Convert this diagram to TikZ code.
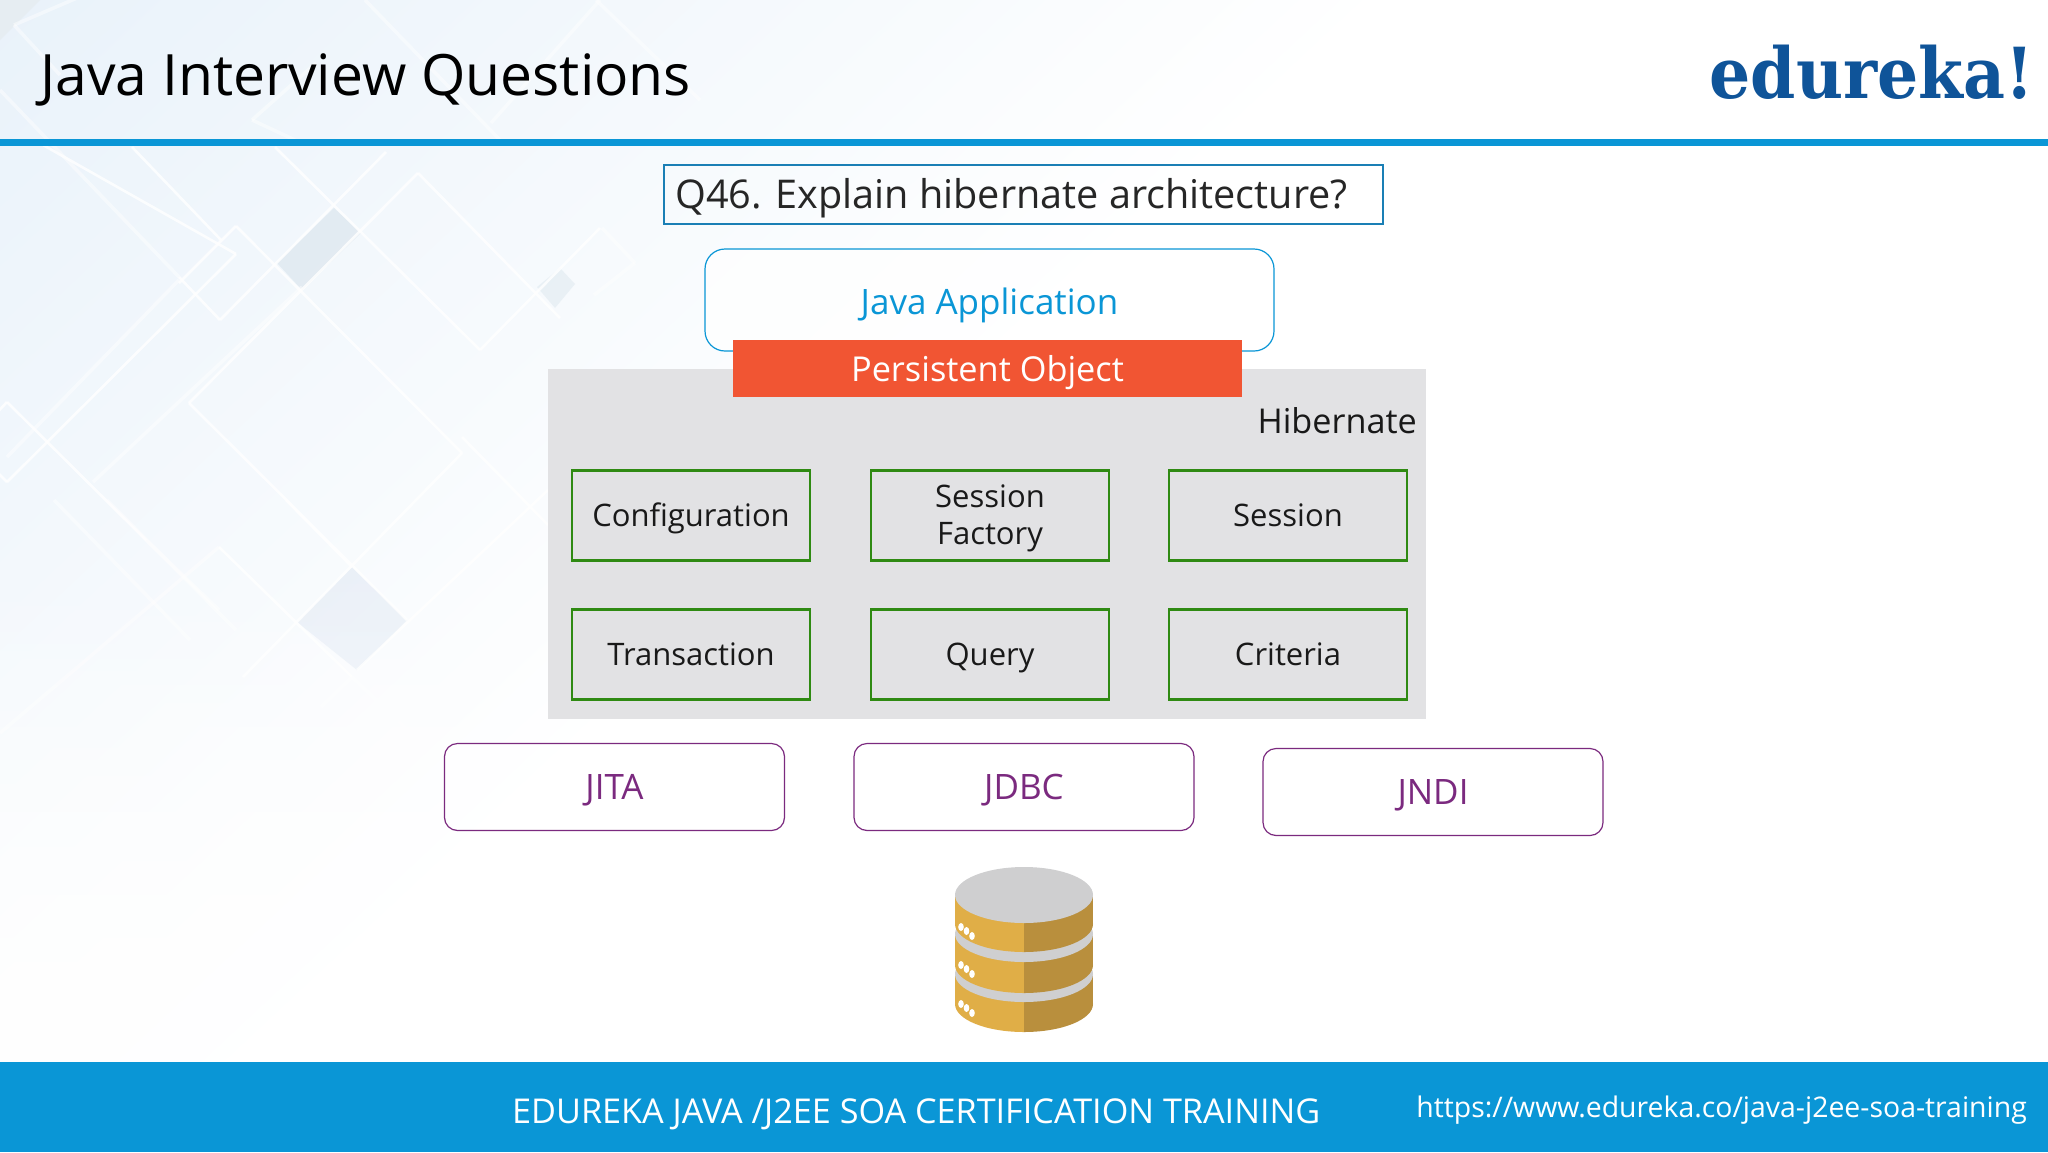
\documentclass[tikz,border=0pt]{standalone}
\usepackage{fontspec}
\usetikzlibrary{fadings}
\setmainfont{Open Sans}
\newfontfamily\logofont[FakeStretch=0.92]{DejaVu Serif}
\definecolor{barblue}{HTML}{0A96D6}
\definecolor{qblue}{HTML}{1A7FB5}
\definecolor{logoblue}{HTML}{0F5499}
\definecolor{bgpale}{HTML}{E9F2FA}
\definecolor{bgblue}{HTML}{DFF2F7}
\definecolor{shadea}{HTML}{D6E2EA}
\definecolor{shadeb}{HTML}{DCE7EE}
\definecolor{shadec}{HTML}{E2EAF4}
\definecolor{cornergrey}{HTML}{E6EDF2}
\definecolor{panelgrey}{HTML}{E2E2E4}
\definecolor{boxgreen}{HTML}{2F8A12}
\definecolor{apipurple}{HTML}{7B2A7F}
\definecolor{poorange}{HTML}{F15533}
\definecolor{dbgold}{HTML}{E0AE47}
\definecolor{dbdark}{HTML}{B98F3D}
\definecolor{dbgrey}{HTML}{CFCFD0}
\newcommand{\dbslab}[2]{%
  \begin{scope}
    \clip (955,860) rectangle (1024,1040);
    \fill[dbgold] (955,#1) rectangle (1024,#2);
    \fill[dbgold] (1024,#2) ellipse [x radius=69,y radius=28];
  \end{scope}
  \begin{scope}
    \clip (1024,860) rectangle (1093,1040);
    \fill[dbdark] (1024,#1) rectangle (1093,#2);
    \fill[dbdark] (1024,#2) ellipse [x radius=69,y radius=28];
  \end{scope}}
\begin{document}
\begin{tikzpicture}[x=1pt,y=-1pt,
  partbox/.style={draw=boxgreen,line width=2.8pt,minimum width=238pt,minimum height=90pt,inner sep=0pt,
    align=center,font=\fontsize{31}{37}\selectfont,text=black!90},
  oneline/.style={text height=22pt,text depth=0pt},
  apibox/.style={draw=apipurple,fill=white,fill opacity=0.6,text opacity=1,line width=1.2pt,rounded corners=13pt,
    minimum width=340pt,minimum height=87pt,inner sep=0pt,text height=25pt,text depth=0pt,
    font=\fontsize{35}{40}\selectfont,text=apipurple},
  bgline/.style={draw=white,line width=2.6pt,opacity=0.8},
  softline/.style={draw=white,line width=3.5pt,opacity=0.45}]
  \useasboundingbox (0,0) rectangle (2048,1152);
  \fill[white] (0,0) rectangle (2048,1152);
  \begin{scope}[transform canvas={rotate=-47}]
    \shade[left color=bgpale,middle color=bgblue,right color=white] (0,-1500) rectangle (950,1500);
  \end{scope}
  \fill[cornergrey] (0,0) -- (40,0) -- (0,40) -- cycle;
  \fill[shadea,opacity=0.55] (334,208) -- (361,233) -- (302,290) -- (277,263) -- cycle;
  \fill[shadeb,opacity=0.5] (537,287) -- (560,268) -- (575,284) -- (555,308) -- cycle;
  \fill[shadec,opacity=0.6] (352,567) -- (407,620) -- (357,670) -- (297,622) -- cycle;
  \foreach \pa/\pb/\pc/\pd in {
    236/226/462/453, 236/226/179/283, 43/145/236/254, 236/254/7/482,
    132/147/221/240, 179/277/220/320, 220/320/386/152, 275/147/480/350,
    480/350/600/228, 418/173/560/318, 418/173/189/403, 189/403/407/620,
    462/453/243/677, 286/500/352/567, 462/437/548/525, 357/670/548/490,
    7/402/146/540, 7/402/-10/420, 7/482/-10/465, 219/547/352/677}
    \draw[bgline] (\pa,\pb) -- (\pc,\pd);
  \foreach \pa/\pb/\pc/\pd in {
    0/90/179/277, 146/540/219/610, 352/677/411/733, 219/547/0/733, 352/677/321/707,
    93/482/302/287, 7/457/179/280, 429/790/271/933, 446/833/357/927, 379/770/446/833,
    54/500/190/640, 107/500/236/630, 252/120/316/63, 252/120/295/140, 491/123/600/0,
    14/25/77/-2, 14/25/60/75, 365/0/500/140, 596/0/700/100, 602/228/635/263,
    635/263/594/295}
    \draw[softline] (\pa,\pb) -- (\pc,\pd);
  \fill[white,path fading=north] (-10,560) rectangle (1200,1062);
  \node[anchor=base west,inner sep=0pt,font=\fontsize{57}{66}\selectfont,text=black] (title) at (40,95) {Java Interview Questions};
  \node[anchor=base east,inner sep=0pt,font=\logofont\bfseries\fontsize{70.4}{76}\selectfont,text=logoblue] (logo) at (2034,98) {edureka!};
  \fill[barblue] (0,139) rectangle (2048,145.5);
  \node[draw=qblue,line width=2.6pt,minimum width=719pt,minimum height=59pt,inner sep=0pt] (qbox) at (1023.5,194.5) {};
  \node[anchor=base west,inner sep=0pt,font=\fontsize{39.6}{48}\selectfont,text=black!85] (qtext) at (675,208.5) {Q46. Explain hibernate architecture?};
  \node[draw=barblue,fill=white,fill opacity=0.7,text opacity=1,line width=1.2pt,rounded corners=20pt,minimum width=569pt,minimum height=102pt,inner sep=0pt,
    text=barblue,text height=29pt,text depth=0pt,font=\fontsize{35}{42}\selectfont] (javaapp) at (989.5,300) {Java Application};
  \node[fill=panelgrey,minimum width=878pt,minimum height=350pt,inner sep=0pt] (hibpanel) at (987,544) {};
  \node[fill=poorange,minimum width=509pt,minimum height=57pt,inner sep=0pt,text=white,text height=25pt,text depth=0pt,
    font=\fontsize{34.3}{42}\selectfont] (persist) at (987.5,368.5) {Persistent Object};
  \node[anchor=east,inner sep=0pt,font=\fontsize{34.2}{42}\selectfont,text=black!90] (hibtext) at (1417,421) {Hibernate};
  \node[partbox,oneline] (config) at (691,515.5) {Configuration};
  \node[partbox] (sfactory) at (990,515.5) {};
  \node[inner sep=0pt,align=center,font=\fontsize{31}{37}\selectfont,text=black!90] (sflabel) at (990,518.5) {Session\\Factory};
  \node[partbox,oneline] (session) at (1288,515.5) {Session};
  \node[partbox,oneline] (trans) at (691,654.5) {Transaction};
  \node[partbox,oneline] (query) at (990,654.5) {Query};
  \node[partbox,oneline] (criteria) at (1288,654.5) {Criteria};
  \node[apibox] (jita) at (614.5,787) {JITA};
  \node[apibox] (jdbc) at (1024,787) {JDBC};
  \node[apibox] (jndi) at (1433,792) {JNDI};
  \dbslab{974}{1004}
  \fill[dbgrey] (1024,974) ellipse [x radius=69,y radius=28];
  \dbslab{934}{965}
  \fill[dbgrey] (1024,934) ellipse [x radius=69,y radius=28];
  \dbslab{895}{924}
  \fill[dbgrey] (1024,895) ellipse [x radius=69,y radius=28];
  \foreach \dy in {0,38,77}
    \foreach \dx/\dz in {961/927,966.5/931,972/936}
      \fill[white] (\dx,\dz+\dy) ellipse [x radius=2.8,y radius=4];
  \fill[barblue] (0,1062) rectangle (2048,1152);
  \node[anchor=base west,inner sep=0pt,font=\fontsize{34.2}{42}\selectfont,text=white] (foottext) at (512,1123) {EDUREKA JAVA /J2EE SOA CERTIFICATION TRAINING};
  \node[anchor=base east,inner sep=0pt,font=\fontsize{28.4}{38}\selectfont,text=white] (footurl) at (2027,1117) {https://www.edureka.co/java-j2ee-soa-training};
\end{tikzpicture}
\end{document}
